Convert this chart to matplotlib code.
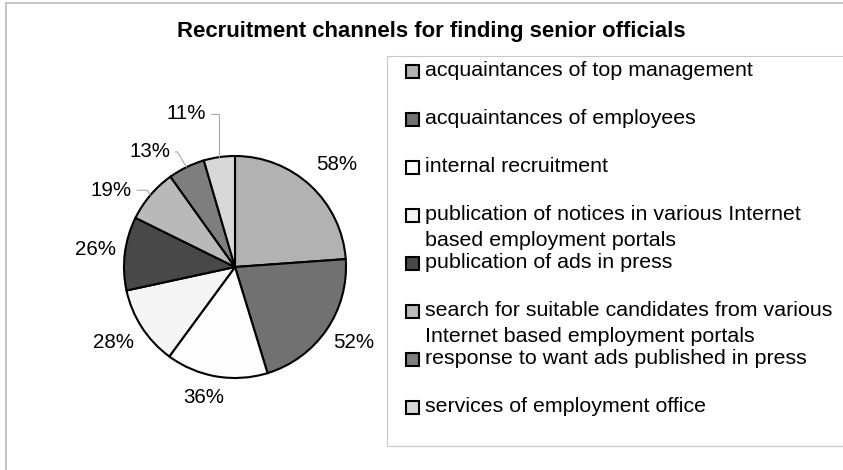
import numpy as np
import matplotlib
matplotlib.use("Agg")
import matplotlib.pyplot as plt
from matplotlib.patches import Rectangle

plt.rcParams["font.family"] = ["Liberation Sans", "DejaVu Sans"]

title = "Recruitment channels for finding senior officials"
channels = [
    "acquaintances of top management",
    "acquaintances of employees",
    "internal recruitment",
    "publication of notices in various Internet\nbased employment portals",
    "publication of ads in press",
    "search for suitable candidates from various\nInternet based employment portals",
    "response to want ads published in press",
    "services of employment office",
]
shares = [58, 52, 36, 28, 26, 19, 13, 11]
colors = ["#b2b2b2", "#717171", "#fdfdfd", "#f5f5f5",
          "#484848", "#b9b9b9", "#7e7e7e", "#d8d8d8"]

# label placement around the pie: radial distance (in radii) and angular nudge (deg)
label_dist = [1.30, 1.27, 1.21, 1.29, 1.27, 1.31, 1.29, 1.45]
label_nudge = [-2, 2, -4, -1, 0, 8.5, 10.6, 9.6]
# direction of the leader line where it leaves the pie edge (None = no leader)
leader_angle = [None, None, None, None, None, 124, 121, 90]

W, H = 843, 470
fig = plt.figure(figsize=(W / 100, H / 100), dpi=100)
ax = fig.add_axes([0, 0, 1, 1])

cx, cy, r = 235, H - 267, 111
wedges, _ = ax.pie(shares, colors=colors, startangle=90, counterclock=False,
                   center=(cx, cy), radius=r,
                   wedgeprops=dict(edgecolor="black", linewidth=1.5))
ax.set_xlim(0, W)
ax.set_ylim(0, H)
ax.set_aspect("auto")
ax.axis("off")

for w, val, d, nudge, lead in zip(wedges, shares, label_dist, label_nudge, leader_angle):
    mid = (w.theta1 + w.theta2) / 2
    a = np.radians(mid + nudge)
    tx, ty = cx + d * r * np.cos(a), cy + d * r * np.sin(a)
    if lead is not None:
        m = np.radians(mid)
        ax.annotate(f"{val}%", xy=(cx + r * np.cos(m), cy + r * np.sin(m)),
                    xytext=(tx, ty), ha="center", va="center", fontsize=14.8,
                    arrowprops=dict(arrowstyle="-", color="#a8a8a8", lw=0.8,
                                    shrinkA=1.5, shrinkB=0,
                                    connectionstyle=f"angle,angleA=0,angleB={lead},rad=0"))
    else:
        ax.text(tx, ty, f"{val}%", ha="center", va="center", fontsize=14.8)

ax.text(431, H - 32, title, ha="center", va="center", fontsize=15.9,
        fontweight="bold")

# chart frame and legend box
ax.add_patch(Rectangle((6, -20), W, H - 3 + 20, fill=False,
                       edgecolor="#b4b4b4", lw=1.1))
ax.add_patch(Rectangle((387, H - 446), W, 390, fill=False,
                       edgecolor="#c8c8c8", lw=0.8))

row_y = 71
for name, col in zip(channels, colors):
    y = H - row_y
    ax.add_patch(Rectangle((406, y - 6.5), 13, 13, facecolor=col,
                           edgecolor="black", lw=1.5))
    for k, line in enumerate(name.split("\n")):
        ax.text(425, y - 25 * k, line, ha="left", va="center", fontsize=15.4)
    row_y += 48

fig.savefig("out.png", dpi=100)
